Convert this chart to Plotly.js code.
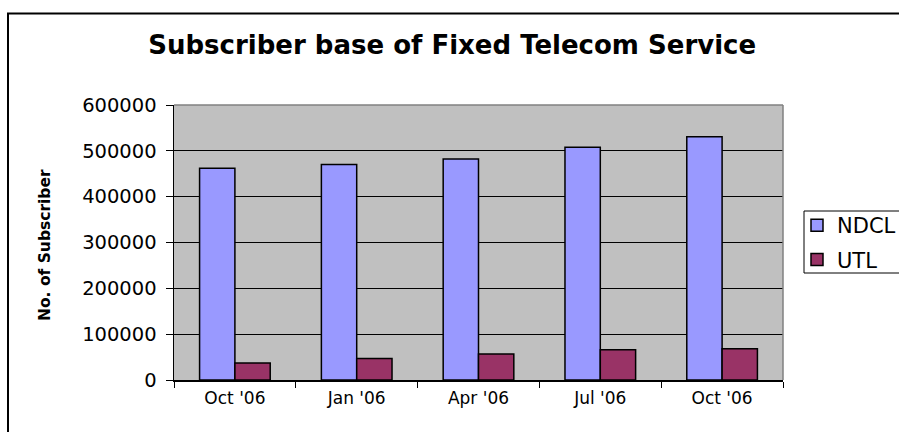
<!DOCTYPE html>
<html>
<head>
<meta charset="utf-8">
<script src="https://cdn.plot.ly/plotly-3.0.1.min.js"></script>
<style>html,body{margin:0;padding:0;background:#fff;}#chart{width:899px;height:432px;}</style>
</head>
<body>
<div id="chart"></div>
<script>
// ---- data ----
const periods = ["Oct '06", "Jan '06", "Apr '06", "Jul '06", "Oct '06"];
const ndcl = [462000, 470000, 482000, 508000, 531000];
const utl = [37000, 47000, 57000, 66000, 68000];
const seriesNames = ["NDCL", "UTL"];
const yTicks = [0, 100000, 200000, 300000, 400000, 500000, 600000];
const chartTitle = "Subscriber base of Fixed Telecom Service";
const yTitle = "No. of Subscriber";

// unique keys so that the two "Oct '06" periods stay separate categories
const keys = periods.map((p, i) => i + "|" + p);

const FONT = "DejaVu Sans, Liberation Sans, Arial, sans-serif";

const traces = [
  {type: "bar", name: seriesNames[0], x: keys, y: ndcl, legendgroup: "a",
   marker: {color: "#9999FF", line: {color: "#000000", width: 1.5}}},
  {type: "bar", name: seriesNames[1], x: keys, y: utl, legendgroup: "b",
   marker: {color: "#993366", line: {color: "#000000", width: 1.5}}}
];

const L = 174, R = 783, T = 105, B = 380, W = 899, H = 432;
const pw = R - L, ph = B - T;
const px = v => (v - L) / pw;     // pixel -> paper x
const py = v => (B - v) / ph;     // pixel -> paper y

const layout = {
  width: W, height: H,
  margin: {l: L, r: W - R, t: T, b: H - B, autoexpand: false},
  paper_bgcolor: "#ffffff",
  plot_bgcolor: "#C0C0C0",
  font: {family: FONT, color: "#000000", size: 17},
  title: {text: chartTitle, x: 0.503, xanchor: "center", xref: "container",
          y: 1 - 45 / H, yanchor: "middle", yref: "container",
          font: {family: FONT, size: 26, weight: 700, color: "#000"}},
  barmode: "group", bargap: 0.42, bargroupgap: 0,
  xaxis: {type: "category", tickmode: "array", tickvals: keys, ticktext: periods,
          tickson: "boundaries", ticks: "outside", ticklen: 6, tickcolor: "#000",
          showline: true, linecolor: "#000", linewidth: 1.5, showgrid: false,
          ticklabelstandoff: 2, tickfont: {family: FONT, size: 17, color: "#000"},
          fixedrange: true},
  yaxis: {range: [0, 600000], tickmode: "array", tickvals: yTicks, tickformat: "d",
          ticks: "outside", ticklen: 7, tickcolor: "#000",
          showline: true, linecolor: "#000", linewidth: 1.5,
          showgrid: true, gridcolor: "#000000", gridwidth: 1, zeroline: false,
          ticklabelstandoff: 5, tickfont: {family: FONT, size: 19.5, color: "#000"},
          fixedrange: true},
  showlegend: true,
  legend: {x: px(797), xanchor: "left", y: py(205), yanchor: "top",
           bgcolor: "rgba(0,0,0,0)", borderwidth: 0,
           font: {family: FONT, size: 21, color: "#000"}, tracegroupgap: 4,
           itemclick: false, itemdoubleclick: false},
  annotations: [
    {text: yTitle, textangle: -90, xref: "paper", yref: "paper",
     x: px(45), y: py(245), xanchor: "center", yanchor: "middle", showarrow: false,
     font: {family: FONT, size: 15.5, weight: 700, color: "#000"}}
  ],
  shapes: [
    // outer chart frame
    {type: "rect", xref: "paper", yref: "paper", x0: px(8), x1: px(960),
     y0: py(500), y1: py(13.5), line: {color: "#000", width: 2}, layer: "above"},
    // plot area border (top and right, grey)
    {type: "line", xref: "paper", yref: "paper", x0: 0, x1: 1, y0: 1, y1: 1,
     line: {color: "#808080", width: 1.5}},
    {type: "line", xref: "paper", yref: "paper", x0: 1, x1: 1, y0: 0, y1: 1,
     line: {color: "#808080", width: 1.5}},
    // legend box (runs past the right edge, as in the reference)
    {type: "rect", xref: "paper", yref: "paper", x0: px(804), x1: px(960),
     y0: py(273), y1: py(211), line: {color: "#000", width: 1}, fillcolor: "#ffffff",
     layer: "below"}
  ]
};

Plotly.newPlot("chart", traces, layout, {displayModeBar: false, staticPlot: true});
</script>
</body>
</html>
